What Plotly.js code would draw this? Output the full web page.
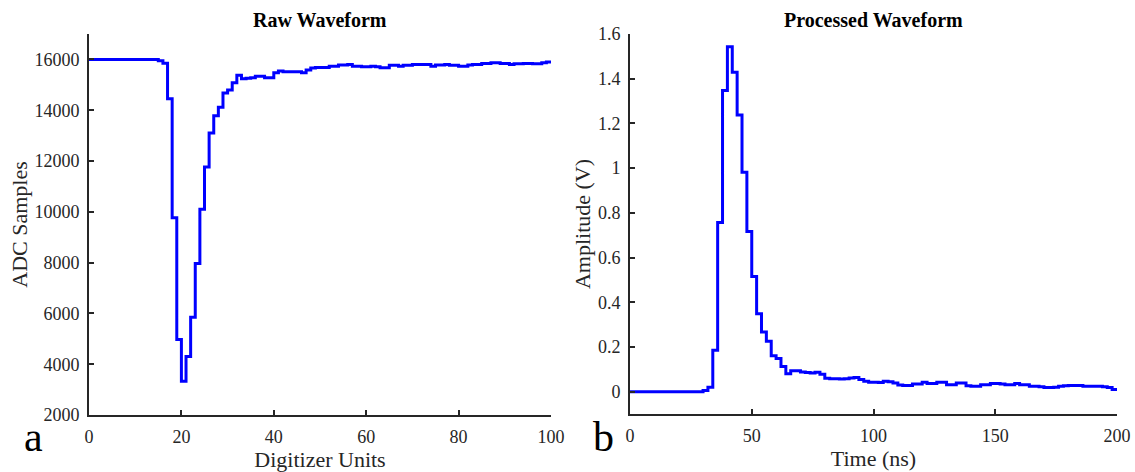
<!DOCTYPE html>
<html>
<head>
<meta charset="utf-8">
<script src="https://cdn.plot.ly/plotly-3.0.1.min.js"></script>
<style>
  html, body { margin: 0; padding: 0; background: #ffffff; }
  #chart { width: 1135px; height: 472px; }
</style>
</head>
<body>
<div id="chart"></div>
<script>
// ---- Data ----
// Raw waveform: ADC samples per digitizer unit (sample index 0..100)
const rawSamples = [
  16000, 16000, 16000, 16000, 16000, 16000, 16000, 16000, 16000, 16000,
  16000, 16000, 16000, 16000, 16000, 15950, 15850, 14450, 9770, 4970,
  3330, 4300, 5850, 7960, 10100, 11760, 13100, 13780, 14120, 14680,
  14800, 15080, 15380, 15240, 15260, 15280, 15340, 15340, 15280, 15280,
  15475, 15540, 15515, 15515, 15515, 15515, 15475, 15580, 15660, 15685,
  15685, 15685, 15735, 15735, 15775, 15775, 15800, 15735, 15735, 15710,
  15710, 15735, 15710, 15670, 15670, 15765, 15765, 15735, 15765, 15765,
  15800, 15800, 15800, 15800, 15735, 15775, 15775, 15800, 15765, 15765,
  15735, 15735, 15775, 15800, 15800, 15840, 15840, 15870, 15870, 15840,
  15840, 15800, 15830, 15830, 15840, 15840, 15830, 15830, 15870, 15895,
  15895
];

// Processed waveform: amplitude (V), one sample every 2 ns (0..200 ns)
const processedAmplitude = [
  0, 0, 0, 0, 0, 0, 0, 0, 0, 0,
  0, 0, 0, 0, 0, 0.005, 0.02, 0.185, 0.757, 1.347,
  1.543, 1.429, 1.238, 0.982, 0.717, 0.515, 0.349, 0.267, 0.226, 0.161,
  0.148, 0.112, 0.080, 0.094, 0.094, 0.088, 0.086, 0.083, 0.087, 0.078,
  0.060, 0.058, 0.058, 0.057, 0.058, 0.061, 0.063, 0.054, 0.046, 0.042,
  0.042, 0.041, 0.046, 0.044, 0.039, 0.030, 0.028, 0.028, 0.034, 0.034,
  0.042, 0.036, 0.036, 0.042, 0.042, 0.031, 0.031, 0.039, 0.039, 0.026,
  0.024, 0.024, 0.031, 0.031, 0.036, 0.036, 0.034, 0.031, 0.031, 0.036,
  0.031, 0.031, 0.024, 0.024, 0.022, 0.019, 0.019, 0.020, 0.024, 0.026,
  0.028, 0.028, 0.027, 0.024, 0.024, 0.024, 0.024, 0.022, 0.018, 0.010,
  0.010
];
const samplePeriodNs = 2;

// Tick labels / titles
const leftTitle = 'Raw Waveform';
const rightTitle = 'Processed Waveform';
const leftXLabel = 'Digitizer Units';
const leftYLabel = 'ADC Samples';
const rightXLabel = 'Time (ns)';
const rightYLabel = 'Amplitude (V)';
const leftXTicks = [0, 20, 40, 60, 80, 100];
const leftYTicks = [2000, 4000, 6000, 8000, 10000, 12000, 14000, 16000];
const rightXTicks = [0, 50, 100, 150, 200];
const rightYTicks = [0, 0.2, 0.4, 0.6, 0.8, 1, 1.2, 1.4, 1.6];
const panelLetters = ['a', 'b'];

// ---- Build ----
const rawIndex = rawSamples.map((_, i) => i);
const timeNs = processedAmplitude.map((_, i) => i * samplePeriodNs);

const W = 1135, H = 472;
const px = v => v / W;
const py = v => (H - v) / H;

const FONT = "'Liberation Serif', 'Times New Roman', serif";
const AX = '#262626';

const lineStyle = { color: '#0000ff', width: 3, shape: 'hv' };

const traces = [
  { x: rawIndex, y: rawSamples, type: 'scatter', mode: 'lines', line: lineStyle,
    xaxis: 'x', yaxis: 'y', hoverinfo: 'x+y' },
  { x: timeNs, y: processedAmplitude, type: 'scatter', mode: 'lines', line: lineStyle,
    xaxis: 'x2', yaxis: 'y2', hoverinfo: 'x+y' }
];

function axisBase(extra) {
  return Object.assign({
    showgrid: false, zeroline: false, showline: true, mirror: false,
    linecolor: AX, linewidth: 2,
    ticks: 'inside', ticklen: 5, tickwidth: 2, tickcolor: AX,
    tickfont: { family: FONT, size: 18, color: AX },
    automargin: false, fixedrange: true
  }, extra);
}

const titleFont = { family: FONT, size: 22, color: AX };

const layout = {
  width: W, height: H,
  margin: { l: 0, r: 0, t: 0, b: 0 },
  paper_bgcolor: '#ffffff', plot_bgcolor: '#ffffff',
  showlegend: false,
  xaxis: axisBase({ domain: [px(89), px(551)], range: [0, 100], tickmode: 'array',
    tickvals: leftXTicks, anchor: 'y', ticklabelstandoff: 4,
    title: { text: leftXLabel, font: titleFont, standoff: 4 } }),
  yaxis: axisBase({ domain: [py(415), py(34)], range: [2000, 17000], tickmode: 'array',
    tickvals: leftYTicks, tickformat: 'd', anchor: 'x', ticklabelstandoff: 4,
    title: { text: leftYLabel, font: titleFont, standoff: 1 } }),
  xaxis2: axisBase({ domain: [px(630), px(1117)], range: [0, 200], tickmode: 'array',
    tickvals: rightXTicks, anchor: 'y2', ticklabelstandoff: 4,
    title: { text: rightXLabel, font: titleFont, standoff: 4 } }),
  yaxis2: axisBase({ domain: [py(414), py(34)], range: [-0.1, 1.6], tickmode: 'array',
    tickvals: rightYTicks, anchor: 'x2', ticklabelstandoff: 4,
    title: { text: rightYLabel, font: titleFont, standoff: 1 } }),
  annotations: [
    { text: '<b>' + leftTitle + '</b>', xref: 'paper', yref: 'paper',
      x: px(320), y: py(20), xanchor: 'center', yanchor: 'middle', showarrow: false,
      font: { family: FONT, size: 20, color: '#000' } },
    { text: '<b>' + rightTitle + '</b>', xref: 'paper', yref: 'paper',
      x: px(873), y: py(20), xanchor: 'center', yanchor: 'middle', showarrow: false,
      font: { family: FONT, size: 20, color: '#000' } },
    { text: panelLetters[0], xref: 'paper', yref: 'paper',
      x: px(33), y: py(437), xanchor: 'center', yanchor: 'middle', showarrow: false,
      font: { family: FONT, size: 42, color: '#000' } },
    { text: panelLetters[1], xref: 'paper', yref: 'paper',
      x: px(603), y: py(437), xanchor: 'center', yanchor: 'middle', showarrow: false,
      font: { family: FONT, size: 42, color: '#000' } }
  ]
};

Plotly.newPlot('chart', traces, layout, { displayModeBar: false, staticPlot: true });
</script>
</body>
</html>
